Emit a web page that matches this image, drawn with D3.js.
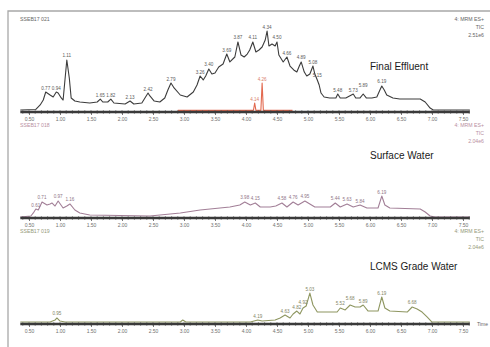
<!DOCTYPE html>
<html>
<head>
<meta charset="utf-8">
<script src="https://cdn.jsdelivr.net/npm/d3@7"></script>
<style>
  html, body { margin: 0; padding: 0; background: #fff; }
  svg { display: block; }
  text { font-family: "Liberation Sans", Arial, sans-serif; }
</style>
</head>
<body>
<div id="chart"></div>
<script>
// Retention-time axis ticks (minutes)
const tickValues = [0.5, 1.0, 1.5, 2.0, 2.5, 3.0, 3.5, 4.0, 4.5, 5.0, 5.5, 6.0, 6.5, 7.0, 7.5];
const timeRange = [0.36, 7.61];

const panelTitles = ["Final Effluent", "Surface Water", "LCMS Grade Water"];
const sampleIds = ["SSEB17 021", "SSEB17 018", "SSEB17 019"];
const headerLines = [
  ["4: MRM ES+", "TIC", "2.51e6"],
  ["4: MRM ES+", "TIC", "2.04e6"],
  ["4: MRM ES+", "TIC", "2.04e6"]
];

// Final Effluent - total ion chromatogram (% of full scale)
const effluentTime = [0.36, 0.61, 0.68, 0.73, 0.77, 0.84, 0.89, 0.94, 0.97, 1.02, 1.05, 1.08, 1.11, 1.15, 1.18, 1.24, 1.32, 1.48,
  1.60, 1.65, 1.69, 1.77, 1.82, 1.87, 2.05, 2.13, 2.19, 2.32, 2.39, 2.42, 2.45, 2.52, 2.61, 2.69, 2.74, 2.79, 2.84, 2.94,
  3.05, 3.15, 3.21, 3.26, 3.31, 3.35, 3.40, 3.45, 3.50, 3.56, 3.63, 3.69, 3.74, 3.82, 3.87, 3.92, 3.97, 4.02, 4.06, 4.11,
  4.16, 4.21, 4.26, 4.31, 4.34, 4.37, 4.42, 4.47, 4.50, 4.53, 4.60, 4.66, 4.71, 4.77, 4.82, 4.86, 4.89, 4.94, 4.98, 5.03,
  5.08, 5.11, 5.15, 5.18, 5.21, 5.26, 5.35, 5.45, 5.48, 5.52, 5.61, 5.73, 5.77, 5.84, 5.89, 5.94, 6.03, 6.11, 6.16, 6.19,
  6.23, 6.27, 6.37, 6.48, 6.81, 6.89, 6.97, 7.02, 7.61];
const effluentInt = [2.2, 2.8, 7.8, 13.3, 22.2, 18.9, 16.7, 22.2, 21.1, 15.6, 13.3, 35.6, 57.8, 37.8, 15.6, 12.2, 11.1, 10,
  11.1, 14.4, 11.1, 11.1, 14.4, 10, 8.9, 12.2, 8.9, 10, 17.8, 21.1, 17.8, 12.2, 11.1, 15.6, 24.4, 32.2, 26.7, 18.9,
  16.7, 22.2, 30, 40, 35.6, 40, 47.8, 42.2, 43.3, 50, 53.3, 64.4, 55.6, 61.1, 77.8, 63.3, 61.1, 64.4, 68.9, 77.8,
  66.7, 68.9, 72.2, 80, 90, 73.3, 75.6, 73.3, 77.8, 63.3, 55.6, 61.1, 51.1, 46.7, 44.4, 51.1, 55.6, 44.4, 40, 42.2,
  51.1, 42.2, 35.6, 30, 21.1, 16.7, 15.6, 15.6, 20, 15.6, 15.6, 20, 15.6, 15.6, 20, 15.6, 15.6, 16.7, 24.4, 28.9,
  24.4, 18.9, 15.6, 14.4, 14.4, 11.1, 4.4, 2.2, 2.2];
const effluentPeaks = [0.77, 0.94, 1.11, 1.65, 1.82, 2.13, 2.42, 2.79, 3.26, 3.40, 3.69, 3.87, 4.11, 4.34, 4.50, 4.66,
  4.89, 5.08, 5.15, 5.48, 5.73, 5.89, 6.19];

// Final Effluent - second channel (red)
const effluentRedTime = [2.90, 4.12, 4.14, 4.16, 4.24, 4.26, 4.28, 4.75];
const effluentRedInt = [1.8, 1.8, 10, 1.8, 1.8, 32.2, 1.8, 1.8];
const effluentRedPeaks = [4.14, 4.26];

// Surface Water
const surfaceTime = [0.36, 0.53, 0.57, 0.61, 0.65, 0.71, 0.79, 0.84, 0.87, 0.92, 0.97, 1.05, 1.11, 1.16, 1.24, 1.32, 1.48,
  2.45, 2.94, 3.26, 3.74, 3.90, 3.98, 4.07, 4.15, 4.23, 4.39, 4.48, 4.58, 4.66, 4.76, 4.84, 4.95, 5.03, 5.11, 5.36,
  5.44, 5.52, 5.63, 5.73, 5.84, 5.95, 6.13, 6.19, 6.24, 6.32, 6.81, 6.89, 6.97, 7.05, 7.61];
const surfaceInt = [1.1, 2.2, 5.6, 10, 8.9, 17.8, 14.4, 15.6, 16.7, 13.3, 18.9, 11.1, 13.3, 15.6, 8.9, 5.6, 3.3,
  2.2, 5.6, 8.9, 12.2, 14.4, 17.8, 14.4, 16.7, 12.2, 12.2, 13.3, 16.7, 12.2, 17.8, 14.4, 18.9, 15.6, 12.2, 12.2,
  16.7, 12.2, 15.6, 12.2, 14.4, 11.1, 11.1, 24.4, 14.4, 11.1, 10, 6.7, 2.2, 1.1, 1.1];
const surfacePeaks = [0.61, 0.71, 0.97, 1.16, 3.98, 4.15, 4.58, 4.76, 4.95, 5.44, 5.63, 5.84, 6.19];

// LCMS Grade Water
const lcmsTime = [0.36, 0.84, 0.92, 0.95, 1.00, 1.08, 2.94, 2.98, 3.03, 4.07, 4.19, 4.26, 4.47, 4.55, 4.63, 4.71, 4.76,
  4.82, 4.87, 4.92, 4.97, 5.03, 5.08, 5.15, 5.47, 5.52, 5.60, 5.68, 5.76, 5.84, 5.89, 5.97, 6.13, 6.19, 6.24, 6.32,
  6.60, 6.68, 6.76, 6.84, 6.92, 7.00, 7.61];
const lcmsInt = [2.2, 2.2, 4.4, 6.7, 3.3, 2.2, 2.2, 4.4, 2.2, 2.2, 4.4, 3.3, 4.4, 6.7, 10, 6.7, 11.1,
  14.4, 11.1, 17.8, 20, 34.4, 21.1, 13.3, 13.3, 17.8, 15.6, 21.1, 18.9, 18.9, 21.1, 14.4, 14.4, 30, 17.8, 14.4,
  13.3, 18.9, 16.7, 13.3, 7.8, 2.2, 2.2];
const lcmsPeaks = [0.95, 4.19, 4.63, 4.82, 4.92, 5.03, 5.52, 5.68, 5.89, 6.19, 6.68];

// ---- drawing ----
const W = 490, H = 347;
const svg = d3.select("#chart").append("svg").attr("width", W).attr("height", H);

// outer frame
svg.append("path").attr("d", "M8,347V11H490")
  .attr("fill", "none").attr("stroke", "#a8a8a8").attr("stroke-width", 1.3);

const x = d3.scaleLinear().domain([0.5, 7.5]).range([29, 463]);
const fmt = d3.format(".2f");

const panels = [
  { axisY: 112, titleY: 70, headColor: "#666",
    traces: [
      { time: effluentTime, val: effluentInt, peaks: effluentPeaks, color: "#3c3c3c", label: "#5a5a5a" },
      { time: effluentRedTime, val: effluentRedInt, peaks: effluentRedPeaks, color: "#e2694f", label: "#d9826c" }
    ] },
  { axisY: 218, titleY: 159, headColor: "#b9909f",
    traces: [
      { time: surfaceTime, val: surfaceInt, peaks: surfacePeaks, color: "#a27f97", label: "#8f7587" }
    ] },
  { axisY: 324, titleY: 270, headColor: "#959a7a",
    traces: [
      { time: lcmsTime, val: lcmsInt, peaks: lcmsPeaks, color: "#8e9660", label: "#7f8566" }
    ] }
];

const labelSize = 4.6;
const labelW = 10.5, labelH = 4.6;

panels.forEach((p, i) => {
  const A = p.axisY;
  const y = d3.scaleLinear().domain([0, 100]).range([A, A - 90]);
  const g = svg.append("g");

  // header: sample id and channel description
  g.append("text").attr("x", 20).attr("y", A - 91)
    .attr("font-size", 5.2).attr("fill", p.headColor).text(sampleIds[i]);
  headerLines[i].forEach((s, k) => {
    g.append("text").attr("x", 484).attr("y", A - 91 + k * 8)
      .attr("text-anchor", "end").attr("font-size", 5.2).attr("fill", p.headColor).text(s);
  });

  // sample title
  g.append("text").attr("x", 370).attr("y", p.titleY)
    .attr("font-size", 10).attr("fill", "#1a1a1a").text(panelTitles[i]);

  // traces
  const placed = [];
  p.traces.forEach(tr => {
    const pts = tr.time.map((t, k) => [t, tr.val[k]]);
    const line = d3.line().x(d => x(d[0])).y(d => y(d[1]));
    g.append("path").attr("d", line(pts))
      .attr("fill", "none").attr("stroke", tr.color)
      .attr("stroke-width", 1.1).attr("stroke-linejoin", "round");
    // retention-time labels above each peak; stacked upward if they would collide
    tr.peaks.forEach(pt => {
      const k = tr.time.findIndex(t => Math.abs(t - pt) < 1e-6);
      if (k < 0) return;
      const lx = x(pt);
      let ly = y(tr.val[k]) - 2.5;
      let moved = true;
      while (moved) {
        moved = false;
        for (const b of placed) {
          if (Math.abs(b.x - lx) < labelW && Math.abs(b.y - ly) < labelH) {
            ly = b.y - labelH - 0.4;
            moved = true;
          }
        }
      }
      placed.push({ x: lx, y: ly });
      g.append("text").attr("x", lx).attr("y", ly)
        .attr("text-anchor", "middle").attr("font-size", labelSize)
        .attr("fill", tr.label).text(fmt(pt));
    });
  });

  // time axis
  const axis = d3.axisBottom(x).tickValues(tickValues).tickFormat(fmt).tickSize(3).tickSizeOuter(0);
  const ag = g.append("g").attr("transform", `translate(0,${A})`).call(axis);
  ag.select(".domain").remove();
  ag.selectAll(".tick line").attr("stroke", "#555").attr("stroke-width", 0.8);
  ag.selectAll(".tick text").attr("font-size", 5).attr("fill", "#707070").attr("y", 5)
    .attr("font-family", "\"Liberation Sans\", Arial, sans-serif");
  const minor = d3.range(4, 77).map(v => v / 10).filter(v => v >= timeRange[0] && v <= timeRange[1]);
  g.selectAll(".minor").data(minor).join("line")
    .attr("x1", d => x(d)).attr("x2", d => x(d))
    .attr("y1", A - 2).attr("y2", A + 2)
    .attr("stroke", "#666").attr("stroke-width", 0.6);
  g.append("line").attr("x1", x(timeRange[0])).attr("x2", x(timeRange[1]))
    .attr("y1", A).attr("y2", A).attr("stroke", "#3a3a3a").attr("stroke-width", 2.4);

  if (i === panels.length - 1) {
    g.append("text").attr("x", 477).attr("y", A + 2)
      .attr("font-size", 5).attr("fill", "#666").text("Time");
  }
});
</script>
</body>
</html>
